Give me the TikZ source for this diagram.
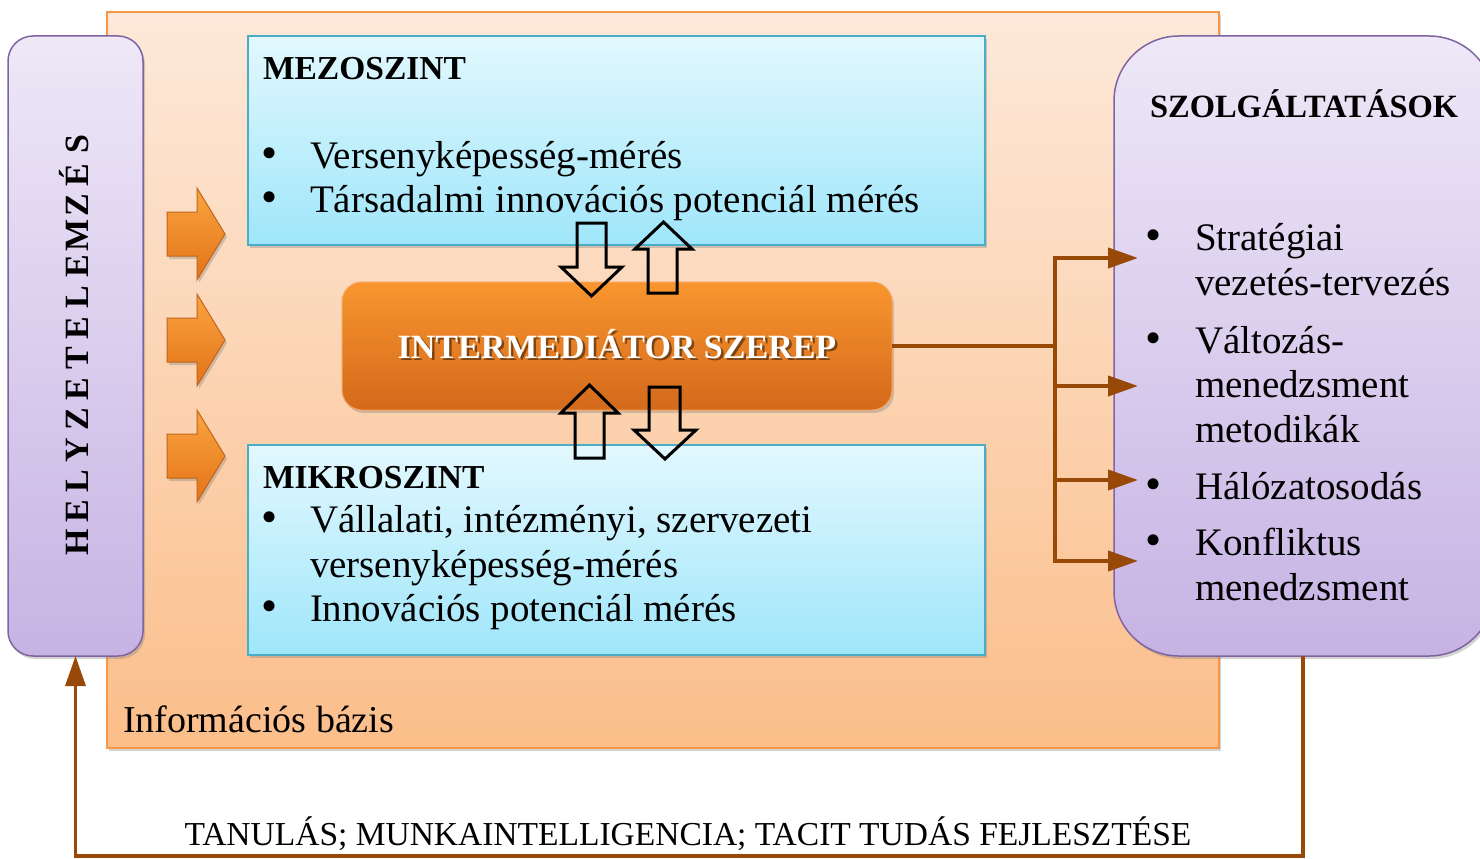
\documentclass[tikz,border=0pt]{standalone}
\usepackage{fontspec}
\setmainfont{Liberation Serif}
\usetikzlibrary{shadows,arrows.meta}
\definecolor{brownline}{HTML}{984807}
\definecolor{infoT}{HTML}{FDE9DA}
\definecolor{infoB}{HTML}{FBBE8A}
\definecolor{infoD}{HTML}{F79646}
\definecolor{purT}{HTML}{EEE8F7}
\definecolor{purB}{HTML}{C6B3E4}
\definecolor{purD}{HTML}{8064A2}
\definecolor{bluT}{HTML}{E3F8FE}
\definecolor{bluB}{HTML}{9FE6FA}
\definecolor{bluD}{HTML}{4BACC6}
\definecolor{intT}{HTML}{F9962E}
\definecolor{intB}{HTML}{D3691C}
\definecolor{intD}{HTML}{F8A35A}
\definecolor{arrT}{HTML}{FBA440}
\definecolor{arrB}{HTML}{E27318}
\definecolor{arrD}{HTML}{C0651C}
\newcommand\fsz[1]{\fontsize{#1}{#1}\selectfont}
\begin{document}
\begin{tikzpicture}[x=1pt,y=-1pt,
  every node/.style={inner sep=0pt, outer sep=0pt},
  shd/.style={drop shadow={shadow xshift=2pt, shadow yshift=-3pt, opacity=.35}},
  infobox/.style={draw=infoD, line width=1.5pt, top color=infoT, bottom color=infoB, shd},
  purplebox/.style={draw=purD, line width=1.5pt, top color=purT, bottom color=purB, rounded corners=#1, shd},
  bluebox/.style={draw=bluD, line width=1.5pt, top color=bluT, bottom color=bluB, shd},
  interbox/.style={draw=intD, line width=1pt, top color=intT, bottom color=intB, rounded corners=20pt, shd},
  conn/.style={draw=brownline, line width=4pt},
  tip/.style={-{Triangle[length=30pt,width=20pt]}},
  hollow/.style={draw=black, line width=3pt, line join=miter},
  blockarrow/.style={draw=arrD, line width=1pt, top color=arrT, bottom color=arrB, shd},
  txt/.style={anchor=base west, font=\fsz{39}},
  bul/.style={anchor=base, font=\fsz{46}},
  ttl/.style={anchor=base west, font=\bfseries\fsz{33.5}}
]
\useasboundingbox (0,0) rectangle (1480,859);
\clip (0,0) rectangle (1480,859);

% information base
\node[infobox, minimum width=1112pt, minimum height=736pt] (info) at (663,380) {};
\node[txt, font=\fsz{38}] (infoL) at (123,732) {Információs bázis};

% left panel
\node[purplebox=25pt, minimum width=135pt, minimum height=620pt] (hely) at (75.5,346) {};
\node[rotate=90, anchor=base, font=\bfseries\fsz{34}] (helyT) at (88.5,343)
  {\foreach \l in {H,E,L,Y,Z,E,T,E,L,E,M,Z,É,S}{\makebox[30.6pt]{\l}}};

% right panel
\node[purplebox=65pt, minimum width=380pt, minimum height=620pt] (szolg) at (1304,346) {};
\node[ttl, font=\bfseries\fsz{32.5}] (szolgT) at (1150,117) {SZOLGÁLTATÁSOK};
\foreach \n/\y in {s1/250, s2/353, s3/499, s4/555}
  \node[bul] (\n b) at (1154,\y) {\textbullet};
\foreach \n/\y/\t in {s1a/250/Stratégiai, s1b/295/vezetés-tervezés, s2a/353/Változás-, s2b/397/menedzsment, s2c/442/metodikák, s3a/499/Hálózatosodás, s4a/555/Konfliktus, s4b/600/menedzsment}
  \node[txt] (\n) at (1195,\y) {\t};

% meso level
\node[bluebox, minimum width=737pt, minimum height=209pt] (mezo) at (616.5,140.5) {};
\node[ttl] (mezoT) at (263,79) {MEZOSZINT};
\foreach \n/\y/\t in {m1/168/Versenyképesség-mérés, m2/212/Társadalmi innovációs potenciál mérés} {
  \node[bul] (\n b) at (270,\y) {\textbullet};
  \node[txt] (\n) at (310,\y) {\t};
}

% micro level
\node[bluebox, minimum width=737pt, minimum height=210pt] (mikro) at (616.5,550) {};
\node[ttl] (mikroT) at (263,488) {MIKROSZINT};
\node[bul] (k1b) at (270,532) {\textbullet};
\node[txt] (k1) at (310,532) {Vállalati, intézményi, szervezeti};
\node[txt] (k1c) at (310,577) {versenyképesség-mérés};
\node[bul] (k2b) at (270,621) {\textbullet};
\node[txt] (k2) at (310,621) {Innovációs potenciál mérés};

% intermediary role
\node[interbox, minimum width=550pt, minimum height=128pt] (inter) at (617,346) {};
\node[anchor=base, font=\bfseries\fsz{34}, text=black, opacity=.45] (interS) at (619.5,360) {INTERMEDIÁTOR SZEREP};
\node[anchor=base, font=\bfseries\fsz{34}, text=white] (interT) at (617,358) {INTERMEDIÁTOR SZEREP};

% orange block arrows
\foreach \c in {234,340,456}
  \path[blockarrow] (167,\c-22) -- (197,\c-22) -- (197,\c-46) -- (225,\c) -- (197,\c+46) -- (197,\c+22) -- (167,\c+22) -- cycle;

% hollow arrows
\draw[hollow] (577,223) -- (606,223) -- (606,267) -- (622,267) -- (591.5,296) -- (561,267) -- (577,267) -- cycle;
\draw[hollow] (663.5,222) -- (692,249) -- (677,249) -- (677,293) -- (648,293) -- (648,249) -- (635,249) -- cycle;
\draw[hollow] (589.5,385) -- (618,413) -- (604,413) -- (604,458) -- (575,458) -- (575,413) -- (561,413) -- cycle;
\draw[hollow] (649,387) -- (680,387) -- (680,430) -- (696,430) -- (665,459) -- (634,430) -- (649,430) -- cycle;

% connectors to services
\coordinate (jn) at (1055,346);
\coordinate (b1) at (1055,258); \coordinate (t1) at (1138,258);
\coordinate (b2) at (1055,386); \coordinate (t2) at (1138,386);
\coordinate (b3) at (1055,480); \coordinate (t3) at (1138,480);
\coordinate (b4) at (1055,561); \coordinate (t4) at (1138,561);
\draw[conn] (inter.east) -- (jn);
\draw[conn, line cap=rect] (b1) -- (b4);
\foreach \i in {1,2,3,4}
  \draw[conn, tip] (b\i) -- (t\i);

% feedback loop
\coordinate (fbR) at (1303,856);
\coordinate (fbL) at (75.5,856);
\draw[conn, line width=3.5pt, tip] (fbR |- szolg.south) -- (fbR) -- (fbL) -- (hely.south);
\node[anchor=base, font=\fsz{33.5}] (learn) at (688,845) {TANULÁS; MUNKAINTELLIGENCIA; TACIT TUDÁS FEJLESZTÉSE};
\end{tikzpicture}
\end{document}
